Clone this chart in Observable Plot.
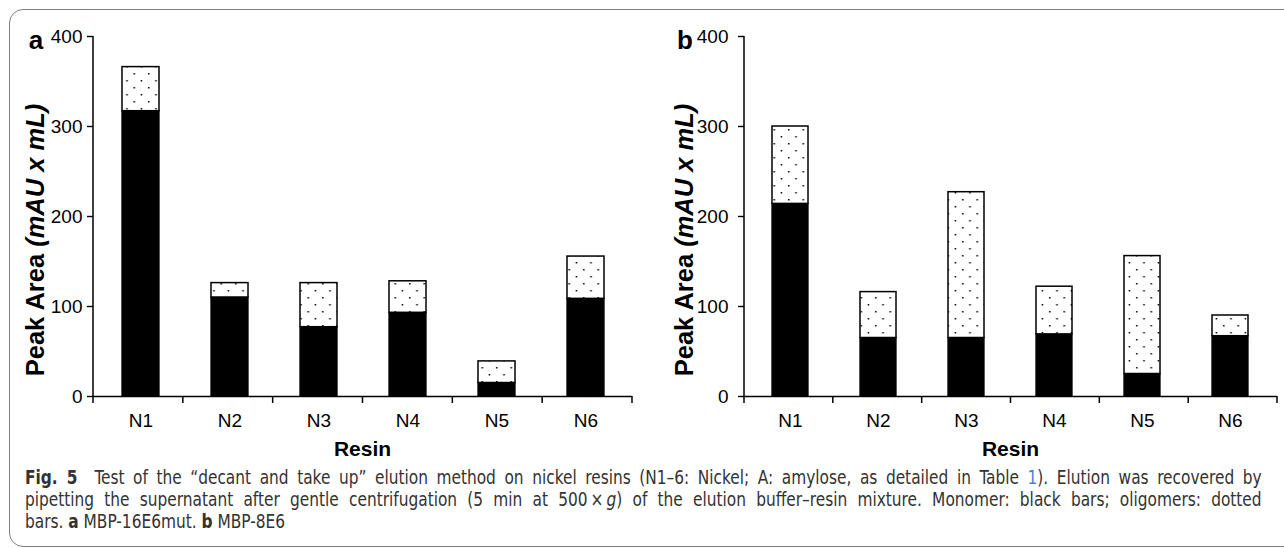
<!DOCTYPE html>
<html>
<head>
<meta charset="utf-8">
<script src="https://cdn.jsdelivr.net/npm/d3@7"></script>
<script src="https://cdn.jsdelivr.net/npm/@observablehq/plot@0.6"></script>
<style>
  html, body { margin: 0; padding: 0; background: #fff; }
  #fig { position: relative; width: 1284px; height: 548px; overflow: hidden; }
  #frame { position: absolute; left: 9px; top: 9px; width: 1320px; height: 538px;
           border: 1.5px solid #7f7f7f; border-radius: 14px; box-sizing: border-box; }
  #pa { position: absolute; left: 0; top: 0; }
  #pb { position: absolute; left: 640px; top: 0; }
  #cap { position: absolute; left: 25px; top: 466px; width: 1374px;
         transform: scaleX(0.9); transform-origin: 0 0;
         font-family: "Liberation Sans Narrow", "DejaVu Sans Condensed", "Open Sans", sans-serif;
         font-stretch: condensed; font-size: 19px; line-height: 22px; color: #333; }
  #cap .j { text-align: justify; text-align-last: justify; }
  #cap .blue { color: #4a7fd6; }
</style>
</head>
<body>
<div id="fig">
  <div id="frame"></div>
  <div id="pa"></div>
  <div id="pb"></div>
  <div id="cap">
    <div class="j"><b>Fig. 5</b>&nbsp; Test of the “decant and take up” elution method on nickel resins (N1–6: Nickel; A: amylose, as detailed in Table <span class="blue">1</span>). Elution was recovered by</div>
    <div class="j">pipetting the supernatant after gentle centrifugation (5 min at 500&thinsp;×&thinsp;<i>g</i>) of the elution buffer–resin mixture. Monomer: black bars; oligomers: dotted</div>
    <div>bars. <b>a</b> MBP-16E6mut. <b>b</b> MBP-8E6</div>
  </div>
</div>
<script>
// ---- data ----
const resins = ["N1", "N2", "N3", "N4", "N5", "N6"];
const monomerA = [317, 110, 77, 93, 15, 108.5];   // black part (panel a)
const totalA   = [366, 126, 126, 128, 39, 155.5]; // top of dotted part (panel a)
const monomerB = [214, 65, 65, 69, 25, 67];        // black part (panel b)
const totalB   = [300, 116, 227, 122, 156, 90];    // top of dotted part (panel b)
const yTicks = [0, 100, 200, 300, 400];
const yLabelMain = "Peak Area ";
const yLabelItalic = "(mAU x mL)";
const xLabel = "Resin";
const panelLetters = ["a", "b"];

function panel(cfg) {
  const rows = resins.map((r, i) => ({resin: r, monomer: cfg.monomer[i], total: cfg.total[i]}));
  const plot = Plot.plot({
    width: cfg.width, height: 460,
    marginTop: 36, marginBottom: 64, marginLeft: cfg.marginLeft, marginRight: cfg.marginRight,
    style: {fontFamily: "'Liberation Sans', Arial, sans-serif", fontSize: "19px", color: "#000", background: "transparent", overflow: "visible"},
    x: {domain: resins, paddingInner: 0.588, paddingOuter: 0.294, label: null},
    y: {domain: [0, 400], label: null},
    marks: [
      Plot.barY(rows, {x: "resin", y1: 0, y2: "monomer", fill: "#000", stroke: "#000", strokeWidth: 1.3}),
      Plot.barY(rows, {x: "resin", y1: "monomer", y2: "total", fill: `url(#${cfg.id})`, stroke: "#000", strokeWidth: 1.5}),
      Plot.ruleY([0], {stroke: "#000", strokeWidth: 1.6}),
      Plot.axisY({ticks: yTicks, tickSize: 6, tickPadding: cfg.tickPad, tickFormat: d => String(d), strokeWidth: 1.4, label: null}),
      Plot.axisX({tickSize: 0, tickPadding: 17, label: null}),
      Plot.text([cfg.letter], {frameAnchor: "top-left", textAnchor: "middle", lineAnchor: "bottom",
                               dx: cfg.letterDx, dy: 12, fontSize: 26, fontWeight: "bold"})
    ]
  });
  const svg = d3.select(plot);
  // dotted fill pattern
  const defs = svg.insert("defs", ":first-child");
  const pat = defs.append("pattern").attr("id", cfg.id).attr("patternUnits", "userSpaceOnUse")
    .attr("width", 14.5).attr("height", 14);
  pat.append("rect").attr("width", 14.5).attr("height", 14).attr("fill", "#fff");
  pat.append("rect").attr("x", 3).attr("y", 3).attr("width", 1.5).attr("height", 1.5).attr("fill", "#000");
  pat.append("rect").attr("x", 10.25).attr("y", 10).attr("width", 1.5).attr("height", 1.5).attr("fill", "#000");

  const xs = plot.scale("x"), ys = plot.scale("y");
  const x0 = xs.range[0], x1 = xs.range[1];
  const yb = ys.range[0], yt = ys.range[1];
  const step = (x1 - x0) / resins.length;
  const g = svg.append("g").attr("stroke", "#000").attr("stroke-width", 1.5);
  // y axis line
  g.append("line").attr("x1", x0).attr("x2", x0).attr("y1", yb + 0.5).attr("y2", yt);
  // category boundary ticks on the x axis
  for (let i = 0; i <= resins.length; i++) {
    const xx = x0 + i * step;
    g.append("line").attr("x1", xx).attr("x2", xx).attr("y1", yb).attr("y2", yb + 7);
  }
  // axis titles
  const cx = (x0 + x1) / 2;
  svg.append("text").attr("x", cx).attr("y", yb + 60).attr("text-anchor", "middle")
    .attr("font-size", 21).attr("font-weight", "bold").attr("fill", "#000").text(xLabel);
  const yt2 = svg.append("text")
    .attr("transform", `translate(${x0 + cfg.ylabOff},${(yb + yt) / 2 + 24}) rotate(-90)`)
    .attr("text-anchor", "middle").attr("font-size", 25.5).attr("font-weight", "bold").attr("fill", "#000");
  yt2.append("tspan").text(yLabelMain);
  yt2.append("tspan").attr("font-style", "italic").text(yLabelItalic);
  return plot;
}

document.getElementById("pa").appendChild(panel({
  id: "dotsA", letter: panelLetters[0], monomer: monomerA, total: totalA,
  width: 640, marginLeft: 93, marginRight: 8, tickPad: 5, letterDx: -57.5, ylabOff: -49
}));
document.getElementById("pb").appendChild(panel({
  id: "dotsB", letter: panelLetters[1], monomer: monomerB, total: totalB,
  width: 644, marginLeft: 104, marginRight: 7, tickPad: 10, letterDx: -59.5, ylabOff: -51
}));
</script>
</body>
</html>
